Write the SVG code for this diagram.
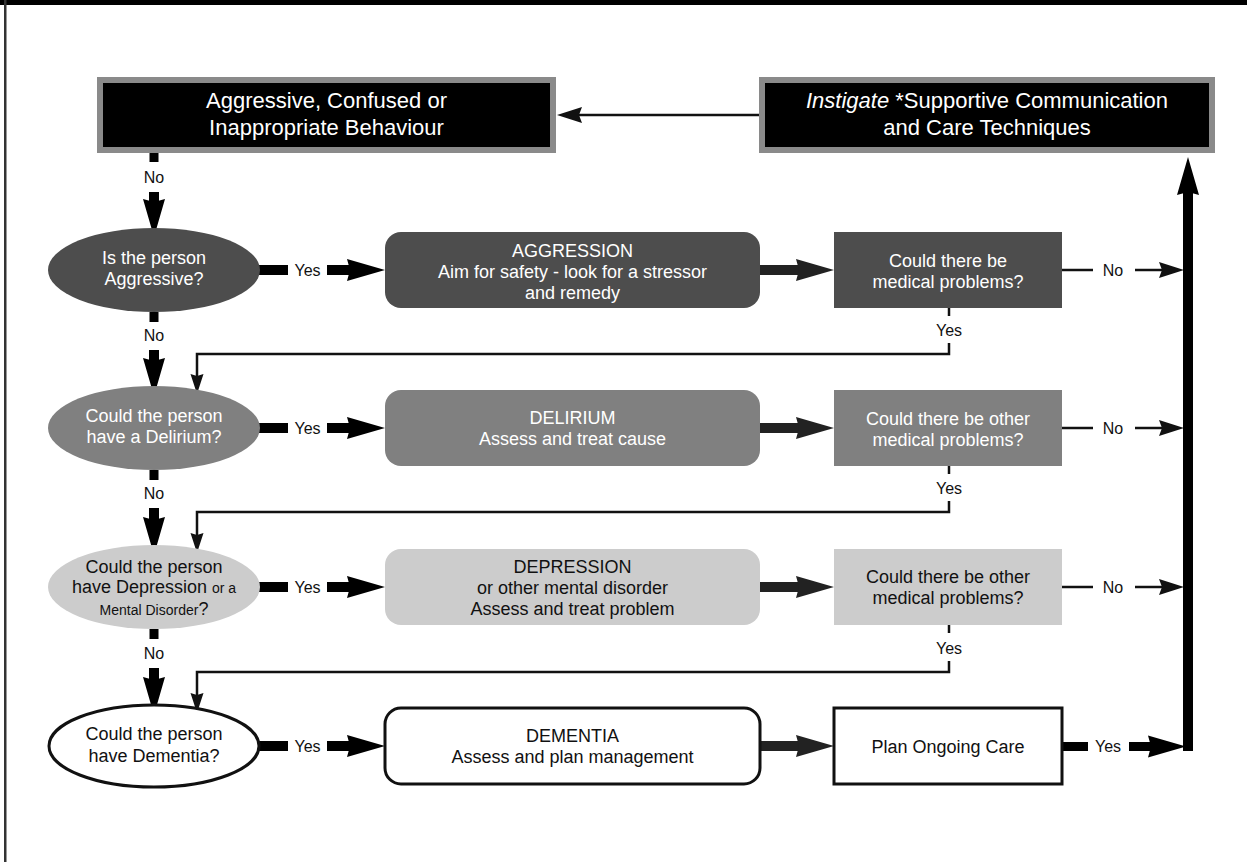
<svg xmlns="http://www.w3.org/2000/svg" xmlns:xlink="http://www.w3.org/1999/xlink" width="1247" height="862" viewBox="0 0 1247 862">
<style>
.t{font-family:"Liberation Sans",Arial,sans-serif;font-size:18px;text-anchor:middle}
.big{font-size:22px}
.lbl{font-size:16px;fill:#111}
.w{fill:#fff}
.k{fill:#111}
.thin{stroke:#111;stroke-width:2.5;fill:none}
.top{fill:#000;stroke:#8a8a8a;stroke-width:6}
.r1{fill:#4d4d4d}
.r2{fill:#808080}
.r3{fill:#cccccc}
.r4{fill:#fff;stroke:#111;stroke-width:3}
</style>
<defs>
<path id="hT" d="M0,0 L-38,-11 L-35,0 L-38,11 Z"/>
<path id="hS" d="M0,0 L-25,-8 L-22,0 L-25,8 Z"/>
<path id="hV" d="M0,0 L-20,-6.5 L-18,0 L-20,6.5 Z"/>
</defs>
<rect x="0" y="0" width="1247" height="862" fill="#fff"/>
<rect x="0" y="0" width="1247" height="5" fill="#000"/>
<rect x="4" y="0" width="2.5" height="862" fill="#333"/>

<g id="connectors">
  <line class="thin" x1="759" y1="115" x2="575" y2="115"/>
  <use xlink:href="#hS" fill="#111" transform="translate(557,115) rotate(180)"/>
  <rect x="149.5" y="153" width="9" height="9" fill="#000"/>
  <text class="t lbl" x="154" y="183">No</text>
  <rect x="149" y="192" width="10" height="14" fill="#000"/>
  <use xlink:href="#hT" fill="#000" transform="translate(154,237) rotate(90)"/>

  <rect x="149.5" y="312" width="9" height="10" fill="#000"/>
  <text class="t lbl" x="154" y="341">No</text>
  <rect x="149" y="350" width="10" height="14" fill="#000"/>
  <use xlink:href="#hT" fill="#000" transform="translate(154,396) rotate(90)"/>

  <rect x="149.5" y="470" width="9" height="10" fill="#000"/>
  <text class="t lbl" x="154" y="499">No</text>
  <rect x="149" y="508" width="10" height="14" fill="#000"/>
  <use xlink:href="#hT" fill="#000" transform="translate(154,555) rotate(90)"/>

  <rect x="149.5" y="629" width="9" height="10" fill="#000"/>
  <text class="t lbl" x="154" y="659">No</text>
  <rect x="149" y="668" width="10" height="14" fill="#000"/>
  <use xlink:href="#hT" fill="#000" transform="translate(154,715) rotate(90)"/>

  <rect x="258" y="265" width="30" height="10" fill="#000"/>
  <text class="t lbl" x="307.5" y="276">Yes</text>
  <rect x="327" y="265" width="28" height="10" fill="#000"/>
  <use xlink:href="#hT" fill="#000" transform="translate(385,270)"/>

  <rect x="258" y="423" width="30" height="10" fill="#000"/>
  <text class="t lbl" x="307.5" y="434">Yes</text>
  <rect x="327" y="423" width="28" height="10" fill="#000"/>
  <use xlink:href="#hT" fill="#000" transform="translate(385,428)"/>

  <rect x="258" y="582" width="30" height="10" fill="#000"/>
  <text class="t lbl" x="307.5" y="593">Yes</text>
  <rect x="327" y="582" width="28" height="10" fill="#000"/>
  <use xlink:href="#hT" fill="#000" transform="translate(385,587)"/>

  <rect x="258" y="741" width="30" height="10" fill="#000"/>
  <text class="t lbl" x="307.5" y="752">Yes</text>
  <rect x="327" y="741" width="28" height="10" fill="#000"/>
  <use xlink:href="#hT" fill="#000" transform="translate(385,746)"/>

  <rect x="760" y="265" width="45" height="10" fill="#222"/>
  <use xlink:href="#hT" fill="#222" transform="translate(834,270)"/>
  <rect x="760" y="423" width="45" height="10" fill="#222"/>
  <use xlink:href="#hT" fill="#222" transform="translate(834,428)"/>
  <rect x="760" y="582" width="45" height="10" fill="#222"/>
  <use xlink:href="#hT" fill="#222" transform="translate(834,587)"/>
  <rect x="760" y="741" width="45" height="10" fill="#222"/>
  <use xlink:href="#hT" fill="#222" transform="translate(834,746)"/>

  <line class="thin" x1="1062" y1="270" x2="1093" y2="270"/>
  <text class="t lbl" x="1113" y="276">No</text>
  <line class="thin" x1="1135" y1="270" x2="1166" y2="270"/>
  <use xlink:href="#hS" fill="#111" transform="translate(1184,270)"/>

  <line class="thin" x1="1062" y1="428" x2="1093" y2="428"/>
  <text class="t lbl" x="1113" y="434">No</text>
  <line class="thin" x1="1135" y1="428" x2="1166" y2="428"/>
  <use xlink:href="#hS" fill="#111" transform="translate(1184,428)"/>

  <line class="thin" x1="1062" y1="587" x2="1093" y2="587"/>
  <text class="t lbl" x="1113" y="593">No</text>
  <line class="thin" x1="1135" y1="587" x2="1166" y2="587"/>
  <use xlink:href="#hS" fill="#111" transform="translate(1184,587)"/>

  <line class="thin" x1="949" y1="308" x2="949" y2="316"/>
  <text class="t lbl" x="949" y="336">Yes</text>
  <polyline class="thin" points="949,343 949,354 197,354 197,378"/>
  <use xlink:href="#hV" fill="#111" transform="translate(197,394) rotate(90)"/>

  <line class="thin" x1="949" y1="466" x2="949" y2="474"/>
  <text class="t lbl" x="949" y="494">Yes</text>
  <polyline class="thin" points="949,501 949,512 197,512 197,537"/>
  <use xlink:href="#hV" fill="#111" transform="translate(197,553) rotate(90)"/>

  <line class="thin" x1="949" y1="625" x2="949" y2="633"/>
  <text class="t lbl" x="949" y="654">Yes</text>
  <polyline class="thin" points="949,661 949,672 197,672 197,697"/>
  <use xlink:href="#hV" fill="#111" transform="translate(197,713) rotate(90)"/>

  <rect x="1062" y="742" width="26" height="9" fill="#000"/>
  <text class="t lbl" x="1108" y="752">Yes</text>
  <rect x="1129" y="742" width="24" height="9" fill="#000"/>
  <use xlink:href="#hT" fill="#000" transform="translate(1186,746.5)"/>
  <rect x="1183" y="190" width="10" height="561" fill="#000"/>
  <use xlink:href="#hT" fill="#000" transform="translate(1188,157) rotate(-90)"/>
</g>

<g id="n-behaviour">
  <rect class="top" x="100" y="80" width="453" height="70"/>
  <text class="t big w" x="326.5" y="108">Aggressive, Confused or</text>
  <text class="t big w" x="326.5" y="135">Inappropriate Behaviour</text>
</g>
<g id="n-instigate">
  <rect class="top" x="762" y="80" width="450" height="70"/>
  <text class="t big w" x="987" y="108"><tspan font-style="italic">Instigate</tspan> *Supportive Communication</text>
  <text class="t big w" x="987" y="135">and Care Techniques</text>
</g>

<g id="q-aggressive">
  <ellipse class="r1" cx="154" cy="270" rx="106" ry="42"/>
  <text class="t w" x="154" y="264">Is the person</text>
  <text class="t w" x="154" y="285">Aggressive?</text>
</g>
<g id="b-aggression">
  <rect class="r1" x="385" y="232" width="375" height="76" rx="16"/>
  <text class="t w" x="572.5" y="257">AGGRESSION</text>
  <text class="t w" x="572.5" y="278">Aim for safety - look for a stressor</text>
  <text class="t w" x="572.5" y="299">and remedy</text>
</g>
<g id="q-medical1">
  <rect class="r1" x="834" y="232" width="228" height="76"/>
  <text class="t w" x="948" y="267">Could there be</text>
  <text class="t w" x="948" y="288">medical problems?</text>
</g>

<g id="q-delirium">
  <ellipse class="r2" cx="154" cy="428" rx="106" ry="42"/>
  <text class="t w" x="154" y="422">Could the person</text>
  <text class="t w" x="154" y="443">have a Delirium?</text>
</g>
<g id="b-delirium">
  <rect class="r2" x="385" y="390" width="375" height="76" rx="16"/>
  <text class="t w" x="572.5" y="424">DELIRIUM</text>
  <text class="t w" x="572.5" y="445">Assess and treat cause</text>
</g>
<g id="q-medical2">
  <rect class="r2" x="834" y="390" width="228" height="76"/>
  <text class="t w" x="948" y="425">Could there be other</text>
  <text class="t w" x="948" y="446">medical problems?</text>
</g>

<g id="q-depression">
  <ellipse class="r3" cx="154" cy="587" rx="106" ry="42"/>
  <text class="t k" x="154" y="573">Could the person</text>
  <text class="t k" x="154" y="593">have Depression <tspan font-size="14">or a</tspan></text>
  <text class="t k" x="154" y="615"><tspan font-size="14">Mental Disorder</tspan>?</text>
</g>
<g id="b-depression">
  <rect class="r3" x="385" y="549" width="375" height="76" rx="16"/>
  <text class="t k" x="572.5" y="573">DEPRESSION</text>
  <text class="t k" x="572.5" y="594">or other mental disorder</text>
  <text class="t k" x="572.5" y="615">Assess and treat problem</text>
</g>
<g id="q-medical3">
  <rect class="r3" x="834" y="549" width="228" height="76"/>
  <text class="t k" x="948" y="583">Could there be other</text>
  <text class="t k" x="948" y="604">medical problems?</text>
</g>

<g id="q-dementia">
  <ellipse class="r4" cx="154" cy="746" rx="105" ry="41"/>
  <text class="t k" x="154" y="740">Could the person</text>
  <text class="t k" x="154" y="762">have Dementia?</text>
</g>
<g id="b-dementia">
  <rect class="r4" x="385" y="708" width="375" height="76" rx="16"/>
  <text class="t k" x="572.5" y="742">DEMENTIA</text>
  <text class="t k" x="572.5" y="763">Assess and plan management</text>
</g>
<g id="n-plan">
  <rect class="r4" x="834" y="708" width="228" height="76"/>
  <text class="t k" x="948" y="753">Plan Ongoing Care</text>
</g>
</svg>
